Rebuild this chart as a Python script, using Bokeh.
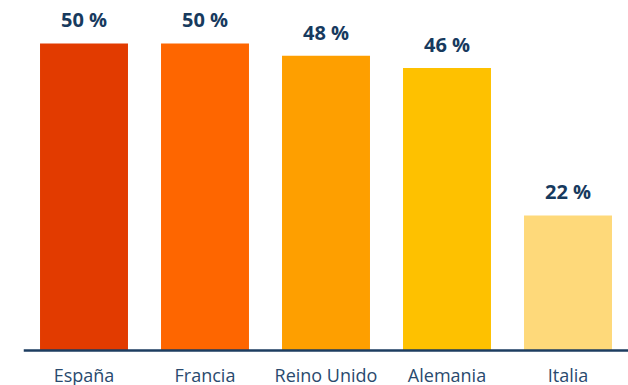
from bokeh.plotting import figure
from bokeh.models import ColumnDataSource, Range1d, FactorRange, LabelSet, Span
from bokeh.core.properties import value
from bokeh.embed import file_html
from bokeh.resources import INLINE

countries = ["España", "Francia", "Reino Unido", "Alemania", "Italia"]
values = [50, 50, 48, 46, 22]
labels = ["50 %", "50 %", "48 %", "46 %", "22 %"]
colors = ["#e23b00", "#fe6600", "#fe9f00", "#fec100", "#fed97a"]

src = ColumnDataSource(dict(x=countries, top=values, label=labels, color=colors,
                            zero=[0] * len(countries)))

p = figure(width=628, height=385, output_backend="svg", toolbar_location=None,
           x_range=FactorRange(*countries, range_padding=0), y_range=Range1d(-5.70, 57.0),
           min_border_left=23, min_border_right=0, min_border_top=0, min_border_bottom=0)

p.vbar(x="x", top="top", bottom=0, width=0.727, color="color", source=src, line_color=None)

lbl = LabelSet(x="x", y="top", text="label", source=src, text_align="center",
               text_baseline="alphabetic", y_offset=16, text_font=value("Open Sans"),
               text_font_style="bold", text_font_size="20px", text_color="#173a5e")
p.add_layout(lbl)

cat = LabelSet(x="x", y="zero", text="x", source=src, text_align="center",
               text_baseline="alphabetic", y_offset=-31, text_font=value("Open Sans"),
               text_font_size="18px", text_color="#2a4a6e")
p.add_layout(cat)

p.add_layout(Span(location=0, dimension="width", line_color="#1d3d60", line_width=2.5))

p.xaxis.visible = False
p.yaxis.visible = False
p.xgrid.visible = False
p.ygrid.visible = False
p.outline_line_color = None

open("out.html", "w").write(file_html(p, INLINE))
